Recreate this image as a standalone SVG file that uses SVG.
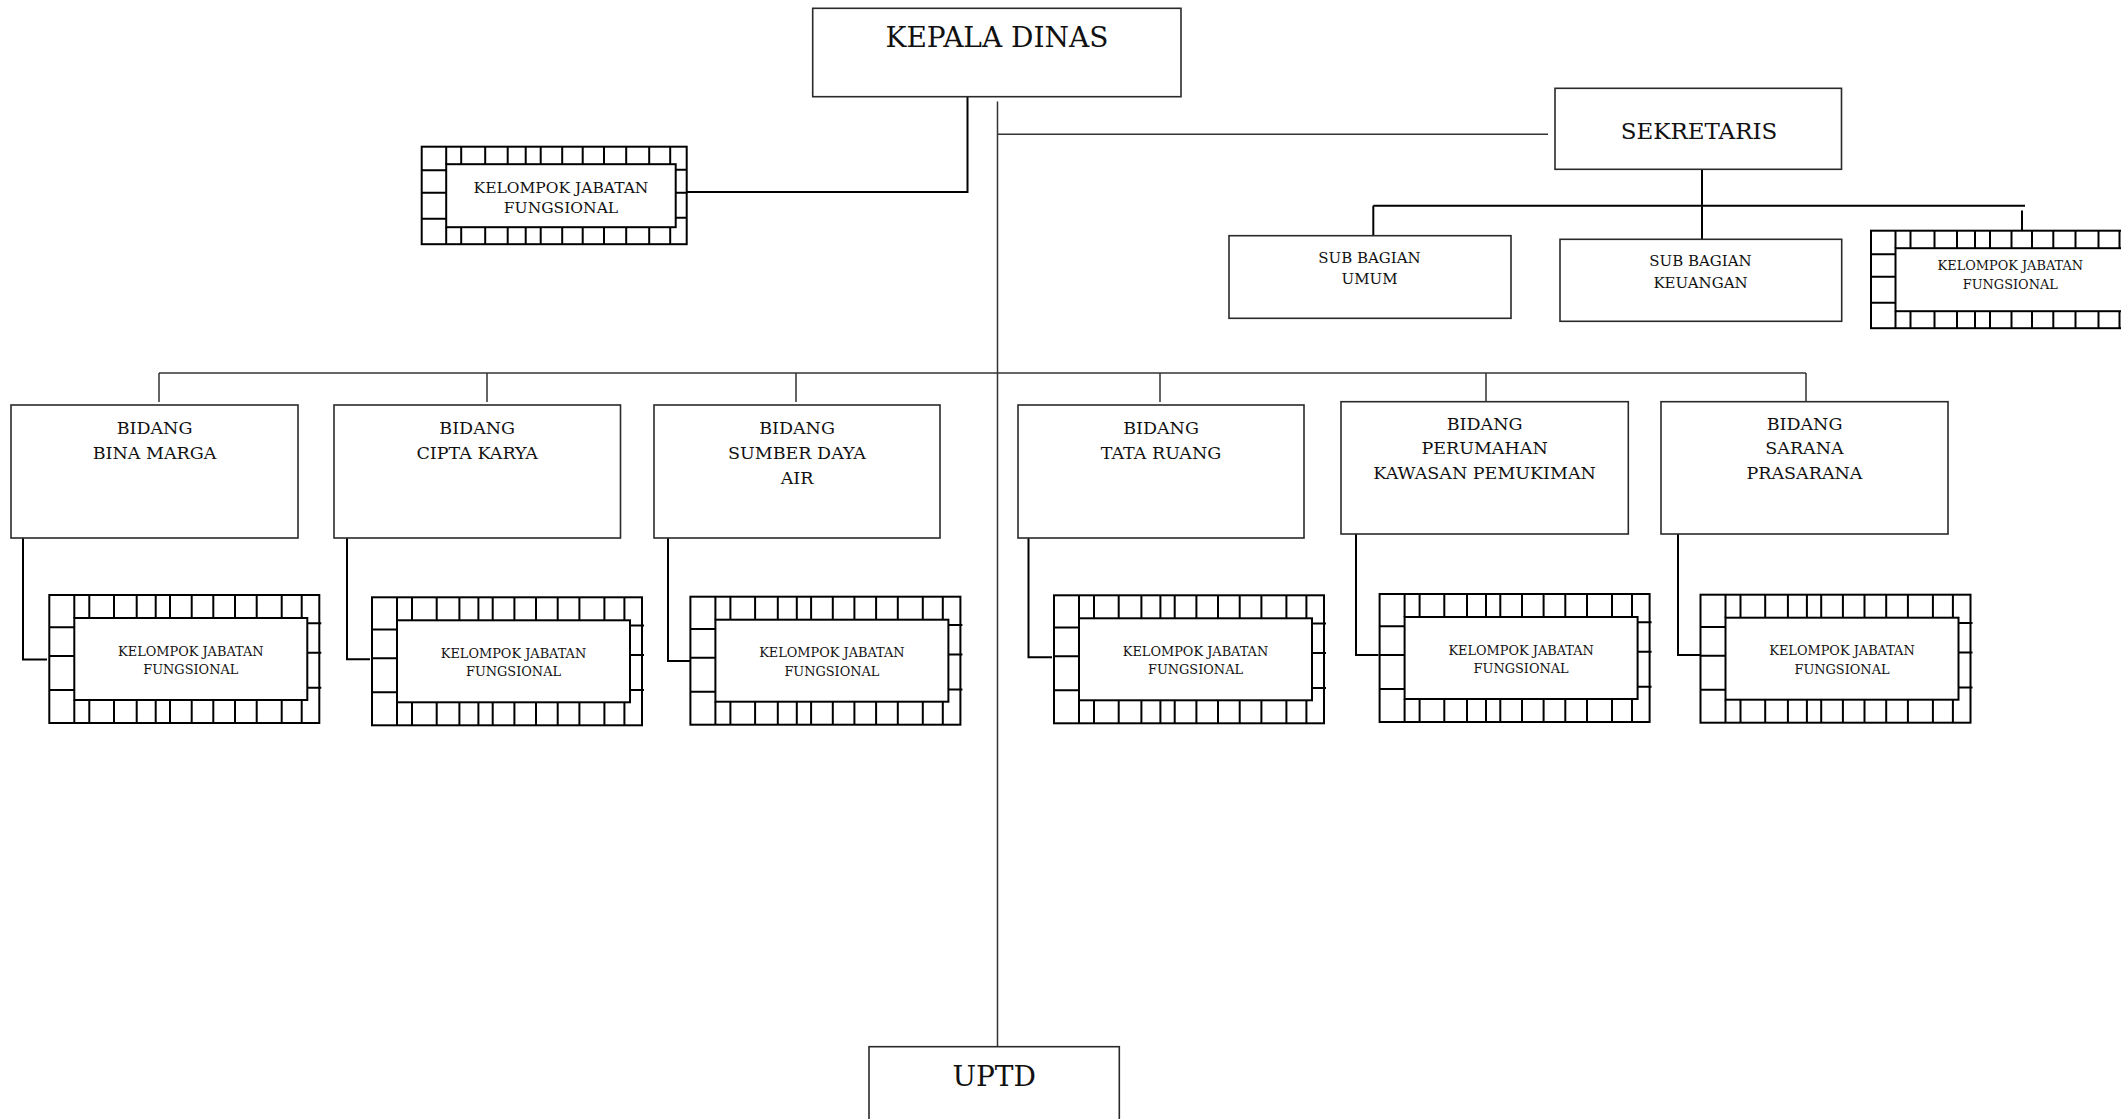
<svg xmlns="http://www.w3.org/2000/svg" xmlns:xlink="http://www.w3.org/1999/xlink" width="2121" height="1119" viewBox="0 0 2121 1119">
  <style>
    .box { fill: #fff; stroke: #2a2a2a; stroke-width: 1.6; }
    .frame-edge { fill: #fff; stroke: #000; stroke-width: 2; }
    .frame-tick { fill: none; stroke: #000; stroke-width: 2; }
    .link { fill: none; stroke: #333; stroke-width: 1.5; }
    .link-bold { fill: none; stroke: #000; stroke-width: 2; }
    text { font-family: "DejaVu Serif", "Liberation Serif", serif; fill: #111; text-anchor: middle; }
    .t-head { font-size: 28px; }
    .t-sek { font-size: 23px; }
    .t-bid { font-size: 17.5px; }
    .t-sub { font-size: 15px; }
    .t-kjf { font-size: 12.9px; }
    .t-kjf-top { font-size: 15.5px; }
  </style>
  <defs>
    <!-- bricked frame used around every "Kelompok Jabatan Fungsional" unit (tall variant) -->
    <g id="kjf-frame">
      <rect class="frame-edge" x="0" y="0" width="270" height="128"/>
      <path class="frame-tick" d="M25 0V23M40 0V23M64.7 0V23M87.4 0V23M106.4 0V23M120.7 0V23M142.4 0V23M164 0V23M185.7 0V23M207.4 0V23M232.4 0V23M252.4 0V23
        M25 105V128M40 105V128M64.7 105V128M87.4 105V128M106.4 105V128M120.7 105V128M142.4 105V128M164 105V128M185.7 105V128M207.4 105V128M232.4 105V128M252.4 105V128
        M0 32.3H25M0 61H25M0 95H25
        M258 28.3H272M258 57.7H272M258 92.7H272"/>
      <rect class="frame-edge" x="25" y="23" width="233" height="82"/>
    </g>
    <!-- shorter variant of the same frame -->
    <g id="kjf-frame-sm">
      <rect class="frame-edge" x="0" y="0" width="265" height="97.5"/>
      <path class="frame-tick" d="M24.5 0V17.5M39.5 0V17.5M63.5 0V17.5M86 0V17.5M104 0V17.5M119 0V17.5M140.5 0V17.5M161 0V17.5M182.3 0V17.5M204.5 0V17.5M227.5 0V17.5M248.5 0V17.5
        M24.5 80.5V97.5M39.5 80.5V97.5M63.5 80.5V97.5M86 80.5V97.5M104 80.5V97.5M119 80.5V97.5M140.5 80.5V97.5M161 80.5V97.5M182.3 80.5V97.5M204.5 80.5V97.5M227.5 80.5V97.5M248.5 80.5V97.5
        M0 23.5H24.5M0 46H24.5M0 72H24.5
        M254 23H265M254 46H265M254 71H265"/>
      <rect class="frame-edge" x="24.5" y="17.5" width="229.5" height="63"/>
    </g>
  </defs>

  <rect x="0" y="0" width="2121" height="1119" fill="#fff"/>

  <!-- connectors -->
  <g id="connectors">
    <path class="link" d="M997.5 101.5V1047"/>
    <path class="link" d="M997.5 134.3H1548"/>
    <path class="link-bold" d="M967.5 97V192H687"/>
    <path class="link" d="M159 373H1806"/>
    <path class="link" d="M159 373V402M487 373V402M796 373V402M1160 373V402M1486 373V401.7M1806 373V401.7"/>
    <path class="link-bold" d="M1702 166V239"/>
    <path class="link-bold" d="M1373.3 205.7H2025"/>
    <path class="link-bold" d="M1373.3 205.7V235.7"/>
    <path class="link-bold" d="M2022 210.5V230.7"/>
    <path class="link-bold" d="M23 538V659.5H47"/>
    <path class="link-bold" d="M347 538V659.3H370"/>
    <path class="link-bold" d="M668 538V661H690"/>
    <path class="link-bold" d="M1028.5 536.7V657.3H1052"/>
    <path class="link-bold" d="M1356 534V655H1378.5"/>
    <path class="link-bold" d="M1678 534V655H1700"/>
  </g>

  <!-- top level -->
  <g id="kepala-dinas">
    <rect class="box" x="812.7" y="8.3" width="368.3" height="88.4"/>
    <text class="t-head" x="997" y="46.5">KEPALA DINAS</text>
  </g>

  <g id="kjf-kepala">
    <use xlink:href="#kjf-frame-sm" href="#kjf-frame-sm" transform="translate(421.7 146.7)"/>
    <text class="t-kjf-top" x="561" y="192.5">KELOMPOK JABATAN</text>
    <text class="t-kjf-top" x="561" y="212.5">FUNGSIONAL</text>
  </g>

  <!-- secretariat -->
  <g id="sekretaris">
    <rect class="box" x="1555" y="88.3" width="286.5" height="81"/>
    <text class="t-sek" x="1699" y="139">SEKRETARIS</text>
  </g>

  <g id="sub-bagian-umum">
    <rect class="box" x="1229" y="235.7" width="282" height="82.6"/>
    <text class="t-sub" x="1369.5" y="262.7">SUB BAGIAN</text>
    <text class="t-sub" x="1369.5" y="284">UMUM</text>
  </g>

  <g id="sub-bagian-keuangan">
    <rect class="box" x="1560" y="239.3" width="281.7" height="82"/>
    <text class="t-sub" x="1700.5" y="266">SUB BAGIAN</text>
    <text class="t-sub" x="1700.5" y="287.5">KEUANGAN</text>
  </g>

  <g id="kjf-sekretaris">
    <use xlink:href="#kjf-frame-sm" href="#kjf-frame-sm" transform="translate(1871 230.7)"/>
    <text class="t-kjf" x="2010.3" y="270">KELOMPOK JABATAN</text>
    <text class="t-kjf" x="2010.3" y="288.5">FUNGSIONAL</text>
  </g>

  <!-- divisions -->
  <g id="bidang-bina-marga">
    <rect class="box" x="11" y="405" width="287" height="133"/>
    <text class="t-bid" x="154.5" y="434">BIDANG</text>
    <text class="t-bid" x="154.5" y="459">BINA MARGA</text>
  </g>
  <g id="kjf-bina-marga">
    <use xlink:href="#kjf-frame" href="#kjf-frame" transform="translate(49.3 595)"/>
    <text class="t-kjf" x="190.8" y="655.5">KELOMPOK JABATAN</text>
    <text class="t-kjf" x="190.8" y="674">FUNGSIONAL</text>
  </g>

  <g id="bidang-cipta-karya">
    <rect class="box" x="334" y="405" width="286.5" height="133"/>
    <text class="t-bid" x="477.2" y="434">BIDANG</text>
    <text class="t-bid" x="477.2" y="459">CIPTA KARYA</text>
  </g>
  <g id="kjf-cipta-karya">
    <use xlink:href="#kjf-frame" href="#kjf-frame" transform="translate(372 597.3)"/>
    <text class="t-kjf" x="513.5" y="657.8">KELOMPOK JABATAN</text>
    <text class="t-kjf" x="513.5" y="676.3">FUNGSIONAL</text>
  </g>

  <g id="bidang-sumber-daya-air">
    <rect class="box" x="654" y="405" width="286" height="133"/>
    <text class="t-bid" x="797" y="434">BIDANG</text>
    <text class="t-bid" x="797" y="459">SUMBER DAYA</text>
    <text class="t-bid" x="797" y="483.5">AIR</text>
  </g>
  <g id="kjf-sumber-daya-air">
    <use xlink:href="#kjf-frame" href="#kjf-frame" transform="translate(690.4 596.7)"/>
    <text class="t-kjf" x="831.9" y="657.2">KELOMPOK JABATAN</text>
    <text class="t-kjf" x="831.9" y="675.7">FUNGSIONAL</text>
  </g>

  <g id="bidang-tata-ruang">
    <rect class="box" x="1018" y="405" width="286" height="133"/>
    <text class="t-bid" x="1161" y="434">BIDANG</text>
    <text class="t-bid" x="1161" y="459">TATA RUANG</text>
  </g>
  <g id="kjf-tata-ruang">
    <use xlink:href="#kjf-frame" href="#kjf-frame" transform="translate(1054 595.3)"/>
    <text class="t-kjf" x="1195.5" y="655.8">KELOMPOK JABATAN</text>
    <text class="t-kjf" x="1195.5" y="674.3">FUNGSIONAL</text>
  </g>

  <g id="bidang-perumahan">
    <rect class="box" x="1341" y="401.7" width="287.3" height="132.3"/>
    <text class="t-bid" x="1484.6" y="429.5">BIDANG</text>
    <text class="t-bid" x="1484.6" y="454.3">PERUMAHAN</text>
    <text class="t-bid" x="1484.6" y="479">KAWASAN PEMUKIMAN</text>
  </g>
  <g id="kjf-perumahan">
    <use xlink:href="#kjf-frame" href="#kjf-frame" transform="translate(1379.6 594)"/>
    <text class="t-kjf" x="1521.1" y="654.5">KELOMPOK JABATAN</text>
    <text class="t-kjf" x="1521.1" y="673">FUNGSIONAL</text>
  </g>

  <g id="bidang-sarana-prasarana">
    <rect class="box" x="1661" y="401.7" width="287" height="132.3"/>
    <text class="t-bid" x="1804.5" y="429.5">BIDANG</text>
    <text class="t-bid" x="1804.5" y="454.3">SARANA</text>
    <text class="t-bid" x="1804.5" y="479">PRASARANA</text>
  </g>
  <g id="kjf-sarana-prasarana">
    <use xlink:href="#kjf-frame" href="#kjf-frame" transform="translate(1700.5 594.7)"/>
    <text class="t-kjf" x="1842" y="655.2">KELOMPOK JABATAN</text>
    <text class="t-kjf" x="1842" y="673.7">FUNGSIONAL</text>
  </g>

  <!-- technical unit -->
  <g id="uptd">
    <rect class="box" x="869" y="1046.7" width="250.3" height="120"/>
    <text class="t-head" x="994.2" y="1086">UPTD</text>
  </g>
</svg>
